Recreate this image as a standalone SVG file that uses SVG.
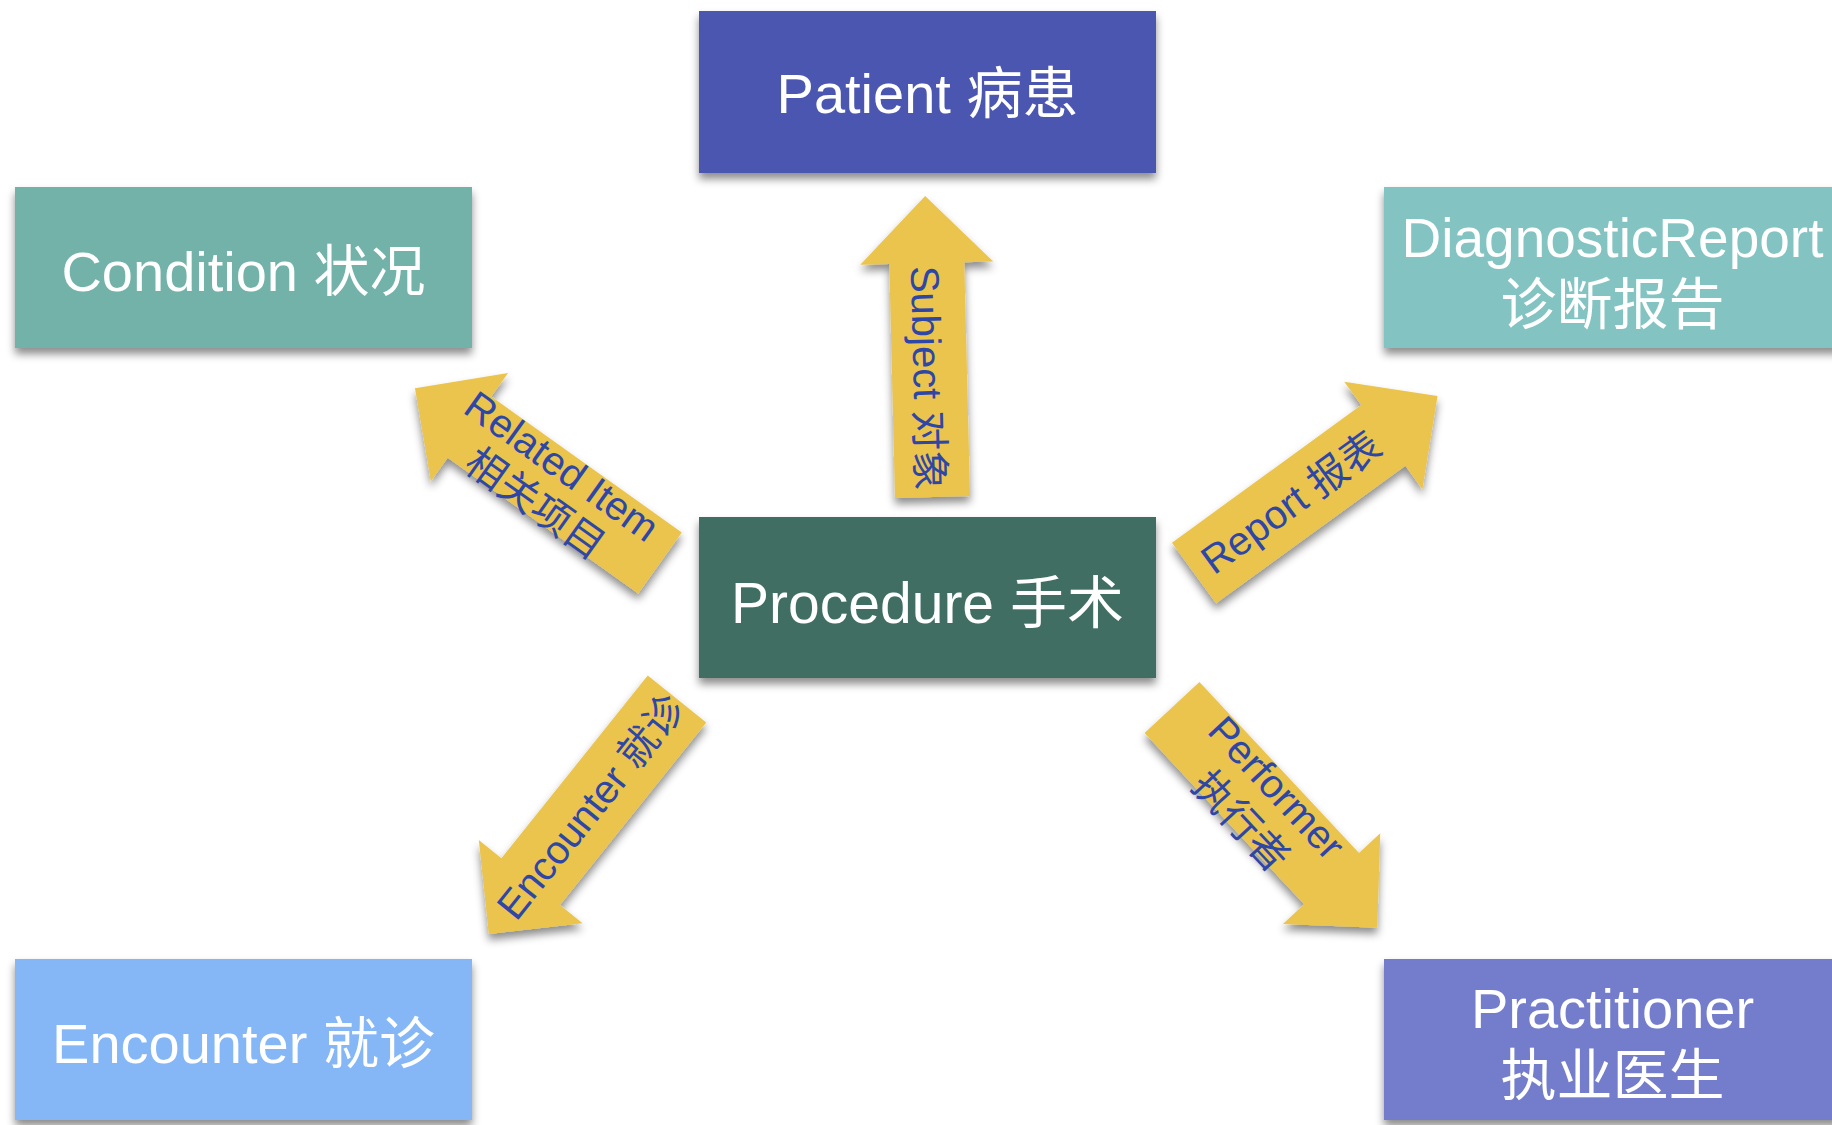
<svg xmlns="http://www.w3.org/2000/svg" width="1832" height="1125" viewBox="0 0 1832 1125">
<style>
.box-label{font-family:"Liberation Sans","Noto Sans CJK SC",sans-serif;font-size:56px;fill:#ffffff;text-anchor:middle}
.arrow{fill:#EBC44E}
.arrow-label{font-family:"Liberation Sans","Noto Sans CJK SC",sans-serif;font-size:40px;fill:#2E47A6;text-anchor:middle;dominant-baseline:central}
</style>
<defs>
<filter id="shadow" x="-15%" y="-15%" width="130%" height="140%">
<feDropShadow dx="0" dy="6" stdDeviation="4" flood-color="#000000" flood-opacity="0.45"/>
</filter>
<polygon id="arrowShape" points="0,-37.5 234,-37.5 234,-66.5 301,0 234,66.5 234,37.5 0,37.5"/>
</defs>
<rect width="1832" height="1125" fill="#ffffff"/>

<g id="node-patient">
<rect x="699" y="11" width="457" height="162" fill="#4B57B0" filter="url(#shadow)"/>
<text class="box-label" x="927.5" y="113">Patient 病患</text>
</g>
<g id="node-condition">
<rect x="15" y="187" width="457" height="161" fill="#72B2A8" filter="url(#shadow)"/>
<text class="box-label" x="243.5" y="291">Condition 状况</text>
</g>
<g id="node-diagnosticreport">
<rect x="1384" y="187" width="457" height="161" fill="#83C4C3" filter="url(#shadow)"/>
<text class="box-label" x="1612.5" y="257" style="font-size:55px">DiagnosticReport</text>
<text class="box-label" x="1612.5" y="324">诊断报告</text>
</g>
<g id="node-procedure">
<rect x="699" y="517" width="457" height="161" fill="#3F6E63" filter="url(#shadow)"/>
<text class="box-label" x="927.5" y="623" style="font-size:57px">Procedure 手术</text>
</g>
<g id="node-encounter">
<rect x="15" y="959" width="457" height="161" fill="#85B6F6" filter="url(#shadow)"/>
<text class="box-label" x="243.5" y="1063">Encounter 就诊</text>
</g>
<g id="node-practitioner">
<rect x="1384" y="959" width="457" height="161" fill="#737DCB" filter="url(#shadow)"/>
<text class="box-label" x="1612.5" y="1028">Practitioner</text>
<text class="box-label" x="1612.5" y="1095">执业医生</text>
</g>

<g id="connectors">
<g id="edge-subject">
<g filter="url(#shadow)"><use href="#arrowShape" class="arrow" transform="translate(932.5,497) rotate(-91.4)"/></g>
<g transform="translate(932.5,497) rotate(-91.4)">
<text class="arrow-label" transform="translate(119,-2) rotate(180)" x="0" y="0">Subject 对象</text>
</g>
</g>
<g id="edge-related">
<g filter="url(#shadow)"><use href="#arrowShape" class="arrow" transform="translate(660,563) rotate(-144.5)"/></g>
<g transform="translate(660,563) rotate(-144.5) translate(136,0) rotate(180)">
<text class="arrow-label" x="0" y="-22">Related Item</text>
<text class="arrow-label" x="0" y="24">相关项目</text>
</g>
</g>
<g id="edge-report">
<g filter="url(#shadow)"><use href="#arrowShape" class="arrow" transform="translate(1194,573) rotate(-36)"/></g>
<g transform="translate(1194,573) rotate(-36)">
<text class="arrow-label" x="120" y="0">Report 报表</text>
</g>
</g>
<g id="edge-performer">
<g filter="url(#shadow)"><use href="#arrowShape" class="arrow" transform="translate(1172,707.5) rotate(47)"/></g>
<g transform="translate(1172,707.5) rotate(47)">
<text class="arrow-label" x="130" y="-22">Performer</text>
<text class="arrow-label" x="130" y="27">执行者</text>
</g>
</g>
<g id="edge-encounter">
<g filter="url(#shadow)"><use href="#arrowShape" class="arrow" transform="translate(677,699) rotate(128.7)"/></g>
<g transform="translate(677,699) rotate(128.7) translate(138,0) rotate(180)">
<text class="arrow-label" x="0" y="0">Encounter 就诊</text>
</g>
</g>
</g>
</svg>
